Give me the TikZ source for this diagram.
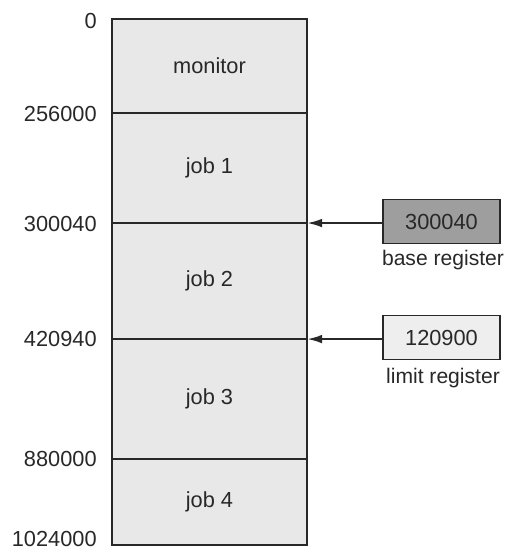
\documentclass[tikz,border=0pt]{standalone}
\usepackage{fontspec}
\setmainfont{Liberation Sans}
\usetikzlibrary{positioning, calc, arrows.meta}
\definecolor{memfill}{RGB}{232, 232, 232}
\definecolor{basefill}{RGB}{158, 158, 158}
\definecolor{limitfill}{RGB}{238, 238, 238}
\definecolor{inkgray}{RGB}{40, 40, 40}
\tikzset{
    region/.style={draw=inkgray, line width=1.5pt, fill=memfill, minimum width=4.875cm,
        inner sep=0pt, outer sep=0pt, text=inkgray, font=\fontsize{15.5}{18}\selectfont},
    addr/.style={anchor=east, inner sep=0pt, text=inkgray, font=\fontsize{15.5}{18}\selectfont},
    regbox/.style={draw=inkgray, line width=1.2pt, minimum width=2.925cm, minimum height=1.1cm,
        inner sep=0pt, text=inkgray, font=\fontsize{15.5}{18}\selectfont},
    reglabel/.style={inner sep=0pt, text=inkgray, font=\fontsize{15}{18}\selectfont},
    regarrow/.style={draw=inkgray, line width=1.6pt, -{Latex[length=0.38cm, width=0.22cm]}},
}

\begin{document}
\begin{tikzpicture}[x=0.025cm, y=-0.025cm]
    \useasboundingbox (0,0) rectangle (507,553);
    % memory layout
    \node (monitor) [region, minimum height=2.35cm] at (209.5,66) {monitor};
    \node (job1) [region, minimum height=2.75cm, below=0pt of monitor] {job 1};
    \node (job2) [region, minimum height=2.9cm, below=0pt of job1] {job 2};
    \node (job3) [region, minimum height=3.0cm, below=0pt of job2] {job 3};
    \node (job4) [region, minimum height=2.15cm, below=0pt of job3] {job 4};
    % addresses
    \node (a0) [addr] at (97,21) {0};
    \node (a1) [addr] at (97,114) {256000};
    \node (a2) [addr] at (97,224) {300040};
    \node (a3) [addr] at (97,339) {420940};
    \node (a4) [addr] at (97,459) {880000};
    \node (a5) [addr] at (97,539) {1024000};
    % registers
    \node (base) [regbox, fill=basefill] at (441.5,221.5) {300040};
    \node (baselabel) [reglabel] at (443,260) {base register};
    \node (limit) [regbox, fill=limitfill] at (441.5,337.5) {120900};
    \node (limitlabel) [reglabel] at (443,378) {limit register};
    \draw[regarrow] (base.west |- job2.north) -- (job2.north east);
    \draw[regarrow] (limit.west |- job3.north) -- (job3.north east);
\end{tikzpicture}
\end{document}
